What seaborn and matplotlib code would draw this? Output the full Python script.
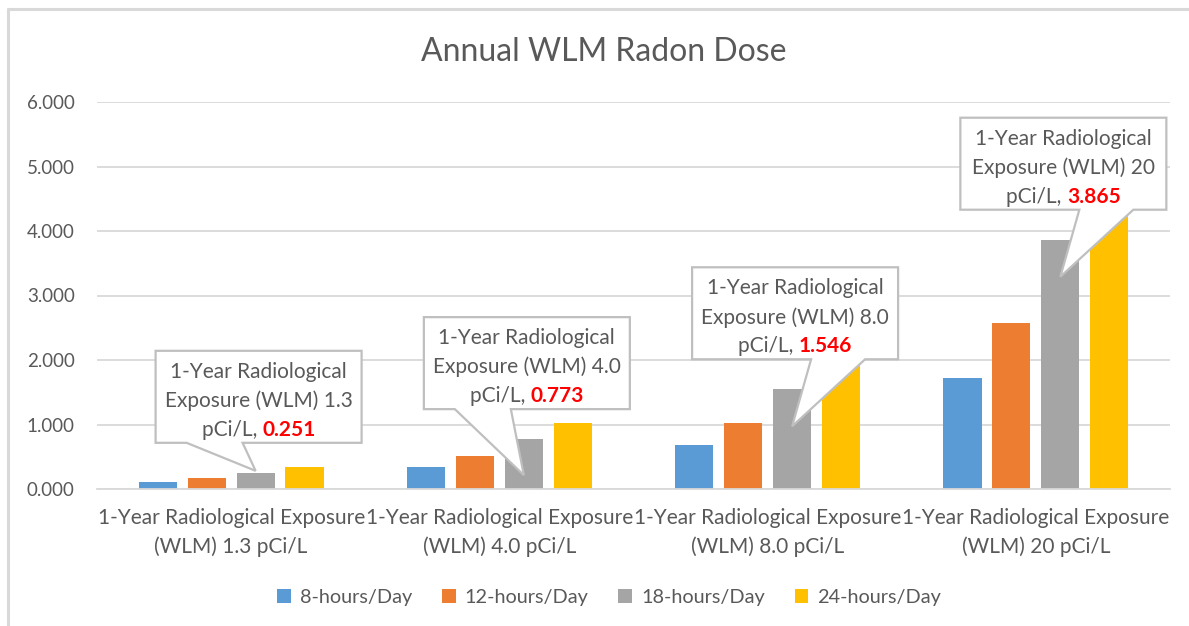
import matplotlib
matplotlib.use("Agg")
import matplotlib.pyplot as plt
import matplotlib.ticker as mticker
import matplotlib.transforms as mtransforms
from matplotlib.patches import Polygon
from matplotlib.lines import Line2D
import pandas as pd
import seaborn as sns

# Data
exposures = ["1.3", "4.0", "8.0", "20"]
categories = [f"1-Year Radiological Exposure\n(WLM) {e} pCi/L" for e in exposures]
series = ["8-hours/Day", "12-hours/Day", "18-hours/Day", "24-hours/Day"]
dose_8h = [0.112, 0.344, 0.687, 1.718]
dose_12h = [0.167, 0.515, 1.031, 2.577]
dose_18h = [0.251, 0.773, 1.546, 3.865]
dose_24h = [0.335, 1.031, 2.061, 5.153]
yticks = [0, 1, 2, 3, 4, 5, 6]

COLORS = ["#5B9BD5", "#ED7D31", "#A5A5A5", "#FFC000"]
TEXT = "#595959"
GRID = "#D9D9D9"
FONT = "Lato"

sns.set_theme(style="white")
plt.rcParams["font.family"] = [FONT, "DejaVu Sans"]

df = pd.DataFrame({
    "category": categories * 4,
    "series": [s for s in series for _ in categories],
    "dose": dose_8h + dose_12h + dose_18h + dose_24h,
})

W, H = 1189, 626
fig = plt.figure(figsize=(W / 100, H / 100), dpi=100)
ax = fig.add_axes([97 / W, 1 - 489 / H, (1170 - 97) / W, (489 - 102) / H])

sns.barplot(data=df, x="category", y="dose", hue="series", palette=COLORS,
            width=0.73, gap=0.22, saturation=1, errorbar=None,
            linewidth=0, ax=ax)

ax.set_ylim(0, 6)
ax.set_yticks(yticks)
ax.yaxis.set_major_formatter(mticker.FormatStrFormatter("%.3f"))
ax.set_xlabel("")
ax.set_ylabel("")
ax.grid(axis="y", color=GRID, linewidth=1.3)
ax.set_axisbelow(True)
for side in ["top", "right", "left"]:
    ax.spines[side].set_visible(False)
ax.spines["bottom"].set_color(GRID)
ax.spines["bottom"].set_linewidth(1.3)
ax.tick_params(axis="both", length=0, colors=TEXT)
ax.tick_params(axis="y", pad=16, labelsize=13.5)
ax.tick_params(axis="x", pad=14, labelsize=15)
for lab in ax.get_xticklabels():
    lab.set_linespacing(1.45)

# legend at the bottom
handles, labels = ax.get_legend_handles_labels()
ax.get_legend().remove()
fig.legend(handles, labels, loc="center", bbox_to_anchor=(609 / W, 1 - 597 / H),
           ncol=4, frameon=False, fontsize=14.3, labelcolor=TEXT,
           handlelength=0.7, handleheight=0.7, handletextpad=0.45,
           columnspacing=1.5)

fig.text(604 / W, 1 - 52 / H, "Annual WLM Radon Dose", ha="center", va="center",
         fontsize=23, color=TEXT)

# chart border (top and left edges visible)
fig.add_artist(Line2D([8 / W, 1], [1 - 9 / H, 1 - 9 / H], color=GRID, lw=2.2,
                      transform=fig.transFigure))
fig.add_artist(Line2D([8 / W, 8 / W], [0, 1 - 9 / H], color=GRID, lw=2.2,
                      transform=fig.transFigure))

# callouts on the 18-hours/Day bars
wedge_side = ["left", "left", "right", "right"]
tip_drop = [-2, 36, 37, 37]
ident = mtransforms.IdentityTransform()
renderer = fig.canvas.get_renderer()
box_w, box_h, gap_px = 206, 92, 30
fs = 15

for i, bar in enumerate(ax.containers[2]):
    bx = bar.get_x() + bar.get_width() / 2
    tx, ty = ax.transData.transform((bx, bar.get_height()))
    cx = tx + 3
    x0, x1 = cx - box_w / 2, cx + box_w / 2
    y0 = ty + gap_px
    y1 = y0 + box_h
    if wedge_side[i] == "left":
        wl, wr = cx - 72, cx - 16
    else:
        wl, wr = cx + 16, cx + 70
    verts = [(x0, y0), (wl, y0), (tx, ty - tip_drop[i]), (wr, y0), (x1, y0), (x1, y1), (x0, y1)]
    poly = Polygon(verts, closed=True, facecolor="white", edgecolor="#BFBFBF",
                   linewidth=1.6, transform=ident, clip_on=False, zorder=5)
    ax.add_patch(poly)

    lines = ["1-Year Radiological", f"Exposure (WLM) {exposures[i]}"]
    for k, s in enumerate(lines):
        ax.text(cx, y1 - 21 - 29 * k, s, ha="center", va="center", fontsize=fs,
                color=TEXT, transform=ident, zorder=6)
    ly = y1 - 21 - 29 * 2
    t1 = ax.text(0, ly, "pCi/L, ", ha="left", va="center", fontsize=fs,
                 color=TEXT, transform=ident, zorder=6)
    t2 = ax.text(0, ly, f"{dose_18h[i]:.3f}", ha="left", va="center", fontsize=fs,
                 color="#FF0000", fontweight="bold", transform=ident, zorder=6)
    w1 = t1.get_window_extent(renderer).width
    w2 = t2.get_window_extent(renderer).width
    start = cx - (w1 + w2) / 2
    t1.set_x(start)
    t2.set_x(start + w1)

fig.savefig("out.png", dpi=100, facecolor="white")
